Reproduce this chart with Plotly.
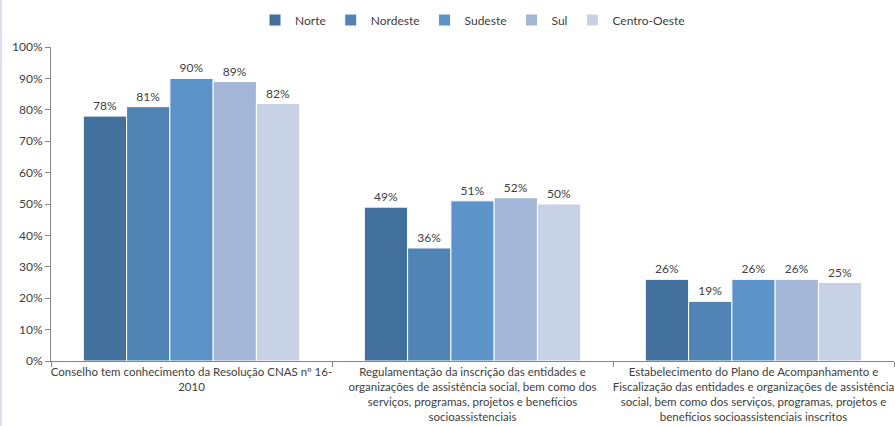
import plotly.graph_objects as go

categories = [
    "Conselho tem conhecimento da Resolução CNAS nº 16-<br>2010",
    "Regulamentação da inscrição das entidades e<br>organizações de assistência social, bem como dos<br>serviços, programas, projetos e benefícios<br>socioassistenciais",
    "Estabelecimento do Plano de Acompanhamento e<br>Fiscalização das entidades e organizações de assistência<br>social, bem como dos serviços, programas, projetos e<br>benefícios socioassistenciais inscritos",
]
regions = ["Norte", "Nordeste", "Sudeste", "Sul", "Centro-Oeste"]
norte = [0.78, 0.49, 0.26]
nordeste = [0.81, 0.36, 0.19]
sudeste = [0.90, 0.51, 0.26]
sul = [0.89, 0.52, 0.26]
centro_oeste = [0.82, 0.50, 0.25]
series = [norte, nordeste, sudeste, sul, centro_oeste]
colors = ["#41709C", "#5084B4", "#5C94CA", "#A3B6D8", "#C8D2E7"]

font_family = "Lato, 'Open Sans', sans-serif"
text_color = "#404040"
axis_color = "#868686"

fig = go.Figure()
for name, vals, col in zip(regions, series, colors):
    fig.add_trace(go.Bar(
        name=name,
        x=categories,
        y=vals,
        marker=dict(color=col, line=dict(color="white", width=1)),
        texttemplate="%{y:.0%}",
        textposition="outside",
        textfont=dict(size=12, color=text_color, family=font_family),
        cliponaxis=False,
    ))

fig.update_layout(
    width=895,
    height=426,
    margin=dict(l=51, r=1, t=47, b=65),
    paper_bgcolor="white",
    plot_bgcolor="white",
    barmode="group",
    bargap=0.23,
    bargroupgap=0,
    font=dict(family=font_family, size=11.5, color=text_color),
    legend=dict(
        orientation="h",
        x=0.5, xanchor="center",
        y=1 + 27 / 314, yanchor="middle",
        font=dict(size=12, color=text_color),
        traceorder="normal",
        itemwidth=30,
        tracegroupgap=0,
        bgcolor="rgba(0,0,0,0)",
    ),
    xaxis=dict(
        showline=True, linecolor=axis_color, linewidth=1,
        ticks="outside", tickson="boundaries", ticklen=5, tickcolor=axis_color,
        tickfont=dict(size=11.5, color=text_color),
        tickangle=0, automargin=False,
        showgrid=False,
    ),
    yaxis=dict(
        range=[0, 1],
        tickvals=[i / 10 for i in range(11)],
        tickformat=".0%",
        showline=True, linecolor=axis_color, linewidth=1,
        ticks="outside", ticklen=5, tickcolor=axis_color,
        tickfont=dict(size=12, color=text_color),
        automargin=False,
        showgrid=False, zeroline=False,
    ),
)

# thin tinted strip on the left edge of the page
fig.add_shape(type="rect", xref="paper", yref="paper",
              x0=-51 / 843, x1=-49 / 843, y0=-65 / 314, y1=1 + 47 / 314,
              fillcolor="#D9DEF0", line=dict(width=0), layer="below")

fig.write_html("out.html")
